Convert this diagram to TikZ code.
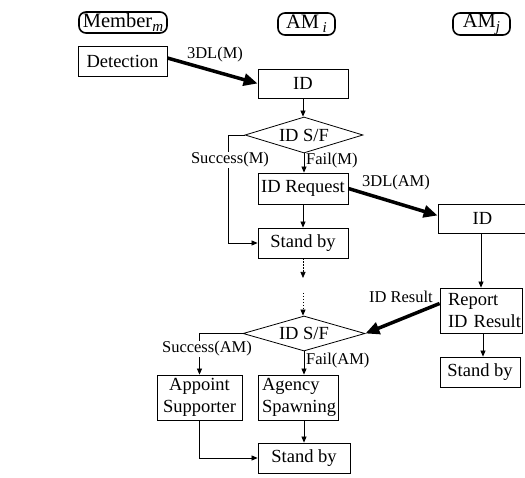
\documentclass[tikz,border=0pt]{standalone}
\usepackage{fontspec}
\setmainfont{Liberation Serif}
\usetikzlibrary{arrows.meta,shapes.geometric,calc}
\newcommand{\hsub}[1]{\raisebox{-4pt}{\fontsize{15}{15}\selectfont\itshape #1}}
\begin{document}
\begin{tikzpicture}[x=1pt,y=-1pt,
  mainfont/.style={font=\fontsize{18.5}{22}\selectfont},
  lab/.style={font=\fontsize{16.5}{19}\selectfont, inner sep=1pt},
  proc/.style={draw, line width=0.8pt, inner sep=0pt, mainfont, align=center},
  dec/.style={draw, diamond, aspect=3.3, line width=0.8pt, inner sep=0pt, mainfont},
  head/.style={draw, rounded corners=7pt, line width=1.6pt, inner sep=0pt, font=\fontsize{20.5}{22}\selectfont},
  flow/.style={-{Triangle[length=6pt,width=5pt]}, line width=0.7pt},
  msg/.style={-{Triangle[length=14pt,width=12pt]}, line width=3.5pt}]
\useasboundingbox (0,0) rectangle (525,478);
\clip (0,0) rectangle (525,478);
% headers
\node[head, minimum width=88pt, minimum height=21pt] (memb) at (123,22.5) {Member\hsub{m}};
\node[head, minimum width=57pt, minimum height=22pt] (ami) at (306.5,24) {AM\,\hsub{i}};
\node[head, minimum width=57pt, minimum height=22pt] (amj) at (481.5,24) {AM\hsub{j}};
% member column
\node[proc, minimum width=89pt, minimum height=30pt] (det) at (122.5,61) {Detection};
% AM_i column
\node[proc, minimum width=90pt, minimum height=29pt] (id1) at (303,83.5) {ID};
\node[dec, minimum width=118pt, minimum height=36pt] (dia1) at (304,135) {ID S/F};
\node[proc, minimum width=90pt, minimum height=31pt] (req) at (303,188.5) {ID Request};
\node[proc, minimum width=90pt, minimum height=30pt] (sb1) at (303,243) {Stand by};
\node[dec, minimum width=122pt, minimum height=35pt] (dia2) at (304,333.5) {ID S/F};
\node[proc, minimum width=85pt, minimum height=45pt] (app) at (199.5,397.5) {Appoint\\Supporter};
\node[proc, minimum height=45pt, text width=72pt, inner xsep=4pt, align=left] (agn) at (298,397.5) {Agency\\Spawning};
\node[proc, minimum width=92pt, minimum height=30pt] (sb2) at (304,458) {Stand by};
% AM_j column
\node[proc, minimum width=89pt, minimum height=29pt] (id2) at (482.5,218.5) {ID};
\node[proc, minimum height=45pt, text width=66pt, inner xsep=8pt, align=left] (rep) at (481,310.5) {Report\\\mbox{ID Result}};
\node[proc, minimum width=80pt, minimum height=30pt] (sb3) at (480,372) {Stand by};
% coordinates
\coordinate (smc) at (228,243);
\coordinate (d1) at (303,278);
\coordinate (d2) at (303,293);
% flows AM_i
\draw[flow] (id1.south) -- (id1.south |- dia1.north);
\draw[flow] (dia1.south) -- (dia1.south |- req.north);
\draw[flow] (req) -- (sb1);
\draw[flow] (dia1.west) -| (smc) -- (sb1.west);
\draw[flow, dash pattern=on 1.5pt off 1.5pt] (sb1.south) -- (d1);
\draw[flow, dash pattern=on 1.5pt off 1.5pt] (d2) -- (d2 |- dia2.north);
\draw[flow] (dia2.west) -| (app.north);
\draw[flow] (dia2.south) -- (dia2.south |- agn.north);
\draw[flow] (sb2.north |- agn.south) -- (sb2.north);
\draw[flow] (app.south) |- (sb2.west);
% flows AM_j
\draw[flow] (rep.north |- id2.south) -- (rep.north);
\draw[flow] ($(rep.south)+(2,0)$) -- ($(rep.south |- sb3.north)+(2,0)$);
% labels on flows
\node[lab, fill=white] (succm) at (230,160) {Success(M)};
\node[lab, anchor=west] (failm) at (305,161) {Fail(M)};
\node[lab, fill=white] (succa) at (207,349) {Success(AM)};
\node[lab, anchor=west] (faila) at (305,361) {Fail(AM)};
% messages
\draw[msg] ($(det.east)+(0,-3)$) -- (id1.west);
\node[lab] (l1) at (215,55) {3DL(M)};
\draw[msg] (req.east) -- ($(id2.west)+(0,-3)$);
\node[lab] (l2) at (396,183) {3DL(AM)};
\draw[msg] ($(rep.west)+(0,-7)$) -- (dia2.east);
\node[lab, anchor=east] (l3) at (434,297) {ID Result};
\end{tikzpicture}
\end{document}
